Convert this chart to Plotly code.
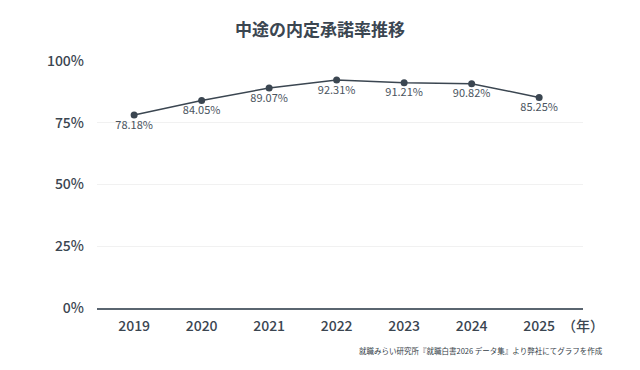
import plotly.graph_objects as go

years = ["2019", "2020", "2021", "2022", "2023", "2024", "2025"]
rates = [78.18, 84.05, 89.07, 92.31, 91.21, 90.82, 85.25]
y_ticks = [0, 25, 50, 75, 100]
y_tick_labels = ["0%", "25%", "50%", "75%", "100%"]

FONT = "Noto Sans CJK JP"
DARK = "#3b4651"

# plot area in pixels
L, R, T, B = 97, 583, 61, 308
W, H = R - L, B - T

fig = go.Figure()
fig.add_trace(go.Scatter(
    x=years, y=rates,
    mode="lines+markers+text",
    line=dict(color=DARK, width=1.5),
    marker=dict(color=DARK, size=7),
    text=[f"{v:.2f}%" for v in rates],
    textposition="bottom center",
    textfont=dict(family=FONT, size=11, color="#4a545e"),
    cliponaxis=False,
    hoverinfo="skip",
))

fig.update_layout(
    width=640, height=370,
    margin=dict(l=L, r=640 - R, t=T, b=370 - B),
    paper_bgcolor="white", plot_bgcolor="white",
    showlegend=False,
    title=dict(text="中途の内定承諾率推移", x=0.5, xanchor="center",
               y=1 - 30 / 370, yanchor="middle",
               font=dict(family=FONT, size=17, color=DARK, weight="bold")),
    xaxis=dict(
        type="category", range=[-0.55, 6.65],
        showgrid=False, showline=True, linecolor="#5a6570", linewidth=1.5,
        ticks="", ticklabelstandoff=4,
        tickfont=dict(family=FONT, size=14, color=DARK, weight=500),
        zeroline=False,
    ),
    yaxis=dict(
        range=[0, 100], tickvals=y_ticks, ticktext=y_tick_labels,
        showgrid=True, gridcolor="#f1f1f1", gridwidth=1,
        showline=False, zeroline=False, ticks="", ticklabelstandoff=12,
        tickfont=dict(family=FONT, size=14, color=DARK, weight=500),
    ),
)

fig.add_annotation(text="（年）", xref="paper", x=(583 - L) / W,
                   yref="paper", y=(B - 325) / H,
                   showarrow=False, xanchor="center", yanchor="middle",
                   font=dict(family=FONT, size=14, color=DARK, weight=500))

fig.add_annotation(text="就職みらい研究所『就職白書2026 データ集』より弊社にてグラフを作成",
                   xref="paper", x=(605 - L) / W, xanchor="right",
                   yref="paper", y=(B - 350) / H, yanchor="middle",
                   showarrow=False,
                   font=dict(family=FONT, size=7.5, color="#333d47"))

fig.write_html("out.html")
